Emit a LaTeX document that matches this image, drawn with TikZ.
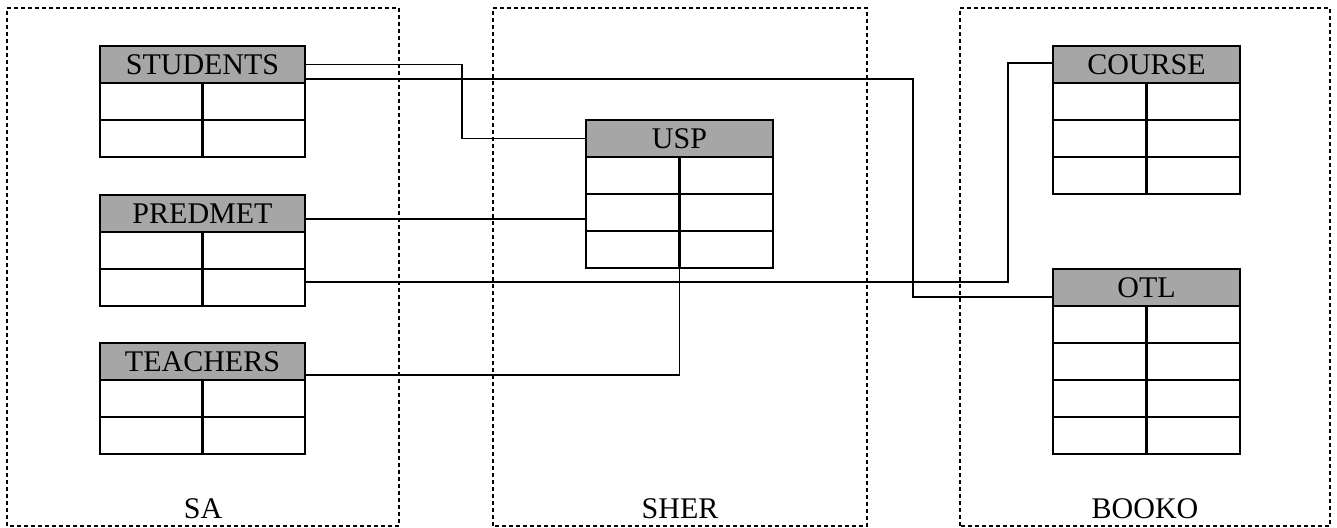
\documentclass[tikz,border=0pt]{standalone}
\usepackage{fontspec}
\setmainfont{Liberation Serif}
\usetikzlibrary{positioning}
\definecolor{tblgray}{HTML}{A6A6A6}
\newcommand{\tblfont}{\fontsize{15}{17}\selectfont}
\tikzset{
  tblhead/.style={draw=black, fill=tblgray, line width=1.1pt, minimum width=2*#1,
    minimum height=18.5pt, inner sep=0pt, outer sep=0pt, font=\tblfont, anchor=north west},
  tblcell/.style={draw=black, fill=white, line width=1.1pt, minimum width=#1,
    minimum height=18.5pt, inner sep=0pt, outer sep=0pt, anchor=north west},
  tbllink/.style={line width=0.75pt, black},
  tblzone/.style={draw=black, line width=0.75pt, dash pattern=on 2pt off 1.5pt},
  tbllabel/.style={font=\tblfont, anchor=base},
}
% table: name, position, half width, rows, title
\newcommand{\dbtable}[5]{%
  \node[tblhead=#3] (#1) at #2 {#5};
  \foreach \r in {1,...,#4}{
    \node[tblcell=#3] (#1-\r-a) at ([yshift={-(\r-1)*18.5pt}]#1.south west) {};
    \node[tblcell=#3] (#1-\r-b) at (#1-\r-a.north east) {};
  }
}

\begin{document}
\begin{tikzpicture}[x=0.5pt, y=0.5pt]
  \useasboundingbox (0,0) rectangle (1337,528);
  % zones
  \draw[tblzone] (7,2) rectangle (399,520);
  \draw[tblzone] (493,2) rectangle (867,520);
  \draw[tblzone] (960,2) rectangle (1330,520);
  \node[tbllabel] (sa) at (203,9) {SA};
  \node[tbllabel] (sher) at (680,9) {SHER};
  \node[tbllabel] (booko) at (1145,9) {BOOKO};
  % tables
  \dbtable{students}{(100,482)}{51.25pt}{2}{STUDENTS}
  \dbtable{predmet}{(100,333)}{51.25pt}{2}{PREDMET}
  \dbtable{teachers}{(100,185)}{51.25pt}{2}{TEACHERS}
  \dbtable{usp}{(586,408)}{46.75pt}{3}{USP}
  \dbtable{course}{(1053,482)}{46.75pt}{3}{COURSE}
  \dbtable{otl}{(1053,259)}{46.75pt}{4}{OTL}
  % links
  \draw[tbllink] (students.east) -- ++(157,0) |- (usp.west);
  \draw[tbllink] ([yshift=2pt]students.south east) -- ++(608,0) |- ([yshift=-4.75pt]otl.west);
  \draw[tbllink] ([yshift=-2.75pt]predmet.east) -- ([yshift=-3.25pt]usp-2-a.west);
  \draw[tbllink] ([yshift=2.75pt]predmet-2-b.east) -- ++(703,0) |- ([yshift=0.75pt]course.west);
  \draw[tbllink] ([yshift=2.5pt]teachers.south east) -| (usp-3-a.south east);
\end{tikzpicture}
\end{document}
